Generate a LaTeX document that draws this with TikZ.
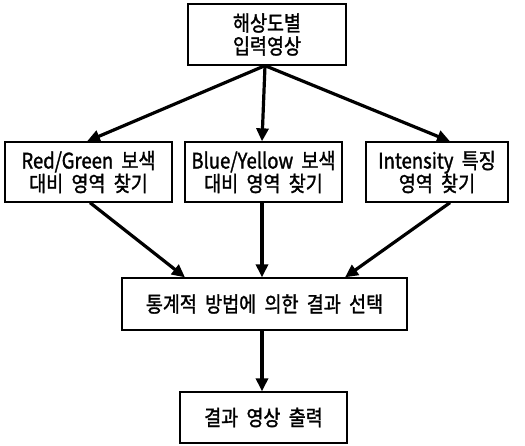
\documentclass[tikz,border=0pt]{standalone}
\usepackage{fontspec}
\setmainfont{Noto Sans CJK KR}[FakeStretch=0.86,FakeBold=1.4,WordSpace=2]
\usetikzlibrary{arrows.meta,calc}
\begin{document}
\begin{tikzpicture}[x=1pt,y=-1pt,
  box/.style={draw=black,line width=1.3pt,rectangle,inner sep=0pt,align=center,
    font=\fontsize{21.5}{23}\selectfont},
  conn/.style={line width=3.2pt,-{Triangle[length=13pt,width=12pt]}}]
\useasboundingbox (0,0) rectangle (525,445);
\node[box,minimum width=158pt,minimum height=61pt] (top) at (267,34.5) {해상도별\\입력영상};
\node[box,minimum width=167pt,minimum height=60pt] (left) at (88.5,172) {Red/Green 보색\\대비 영역 찾기};
\node[box,minimum width=157pt,minimum height=60pt] (mid) at (263.5,172) {Blue/Yellow 보색\\대비 영역 찾기};
\node[box,minimum width=142pt,minimum height=60pt] (right) at (437,172) {Intensity 특징\\영역 찾기};
\node[box,minimum width=285pt,minimum height=52pt] (stat) at (264.5,304) {통계적 방법에 의한 결과 선택};
\node[box,minimum width=167pt,minimum height=51pt] (out) at (263.5,417.5) {결과 영상 출력};
\draw[conn] ($(top.south)+(-2,0)$) -- ($(left.north)+(-1.5,0)$);
\draw[conn] ($(top.south)+(-2,0)$) -- ($(mid.north)+(-1.5,0)$);
\draw[conn] ($(top.south)+(-2,0)$) -- ($(right.north)+(13,0)$);
\draw[conn] ($(left.south)+(1.5,0)$) -- ($(stat.north)+(-79.5,0)$);
\draw[conn] ($(mid.south)+(-1.5,0)$) -- ($(stat.north)+(-2.5,0)$);
\draw[conn] ($(right.south)+(13,0)$) -- ($(stat.north)+(80.5,0)$);
\draw[conn] ($(stat.south)+(-2.5,0)$) -- ($(out.north)+(-1.5,0)$);
\end{tikzpicture}
\end{document}
